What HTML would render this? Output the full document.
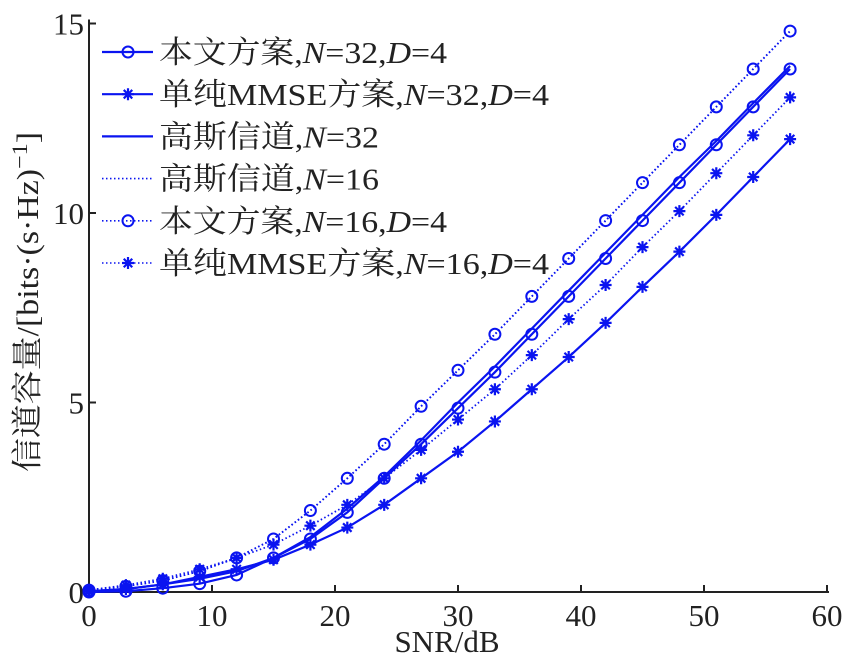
<!DOCTYPE html>
<html><head><meta charset="utf-8"><style>
body{margin:0;background:#fff}
svg text{font-family:"Liberation Serif","Noto Serif CJK SC",serif;fill:#222}
</style></head><body>
<svg id="chart" width="850" height="663" xmlns="http://www.w3.org/2000/svg">
<g id="plot"></g>
</svg>
<script>
const snr=[0,3,6,9,12,15,18,21,24,27,30,33,36,39,42,45,48,51,54,57];
const xTicks=[0,10,20,30,40,50,60];
const yTicks=[0,5,10,15];
const prop32=[0,0.02,0.1,0.22,0.45,0.9,1.4,2.1,3.0,3.9,4.85,5.8,6.8,7.8,8.8,9.8,10.8,11.8,12.8,13.8];
const mmse32=[0.02,0.08,0.2,0.4,0.6,0.85,1.25,1.7,2.3,3.0,3.7,4.5,5.35,6.2,7.1,8.05,8.98,9.95,10.95,11.95];
const gauss32=[0.02,0.08,0.2,0.35,0.55,0.9,1.45,2.2,3.05,4.0,5.0,5.95,6.95,7.95,8.95,9.95,10.95,11.9,12.9,13.88];
const gauss16=[0.05,0.15,0.3,0.55,0.9,1.4,2.15,3.0,3.9,4.9,5.85,6.8,7.8,8.8,9.8,10.8,11.8,12.8,13.8,14.8];
const prop16=[0.05,0.15,0.3,0.55,0.9,1.4,2.15,3.0,3.9,4.9,5.85,6.8,7.8,8.8,9.8,10.8,11.8,12.8,13.8,14.8];
const mmse16=[0.05,0.18,0.35,0.6,0.9,1.25,1.75,2.3,3.0,3.75,4.55,5.35,6.25,7.2,8.1,9.1,10.05,11.05,12.05,13.05];
const legendLabels=[
 ['本文方案,','N','=32,','D','=4'],
 ['单纯MMSE方案,','N','=32,','D','=4'],
 ['高斯信道,','N','=32'],
 ['高斯信道,','N','=16'],
 ['本文方案,','N','=16,','D','=4'],
 ['单纯MMSE方案,','N','=16,','D','=4']];
const legendWidths=[288,390,220,220,288,390];
const NS='http://www.w3.org/2000/svg';
const g=document.getElementById('plot');
const X0=89,X1=827,Y0=592,Y1=23.5;
const sx=v=>X0+(v-0)/60*(X1-X0);
const sy=v=>Y0-(v/15)*(Y0-Y1);
const BLUE='#0a14f0';
function el(t,a,p){const e=document.createElementNS(NS,t);for(const k in a)e.setAttribute(k,a[k]);(p||g).appendChild(e);return e;}
let ax=el('path',{d:`M${X0} ${Y1-4} V${Y0} H${X1+2}`,stroke:'#222','stroke-width':2,fill:'none'});


xTicks.forEach(t=>{
 let l=el('line',{x1:sx(t),x2:sx(t),y1:Y0,y2:Y0-7,stroke:'#222','stroke-width':2});
 
 
 let tx=el('text',{x:sx(t),y:Y0+34,'text-anchor':'middle','font-size':31});
 tx.textContent=t;
 
 
});
yTicks.forEach(t=>{
 let l=el('line',{x1:X0,x2:X0+7,y1:sy(t),y2:sy(t),stroke:'#222','stroke-width':2});
 
 
 let tx=el('text',{x:X0-5,y:sy(t)+11,'text-anchor':'end','font-size':31});
 tx.textContent=t;
 
 
});
let xl=el('text',{x:447,y:652,'text-anchor':'middle','font-size':31});
xl.textContent='SNR/dB';


let yl=el('text',{x:-120-352+0,y:0,'font-size':31,textLength:340,lengthAdjust:'spacingAndGlyphs',transform:'translate(38,0) rotate(-90)'});
yl.setAttribute('x',-472);
yl.innerHTML='信道容量/[bits·(s·Hz)<tspan dy="-11" font-size="22">−1</tspan><tspan dy="11">]</tspan>';


function marker(type,x,y,parent){
 if(type==='o'){return el('circle',{cx:x,cy:y,r:5.5,fill:'none',stroke:BLUE,'stroke-width':2},parent);}
 if(type==='*'){const p=[];for(let i=0;i<4;i++){const a=i*Math.PI/4;p.push(`M${x-6*Math.cos(a)} ${y-6*Math.sin(a)} L${x+6*Math.cos(a)} ${y+6*Math.sin(a)}`);}
  return el('path',{d:p.join(' '),stroke:BLUE,'stroke-width':2.2},parent);}
}
const series=[
 {d:gauss16,m:null,dash:true,name:'series-gauss-n16'},
 {d:prop16,m:'o',dash:true,name:'series-proposed-n16'},
 {d:mmse16,m:'*',dash:true,name:'series-mmse-n16'},
 {d:gauss32,m:null,dash:false,name:'series-gauss-n32'},
 {d:prop32,m:'o',dash:false,name:'series-proposed-n32'},
 {d:mmse32,m:'*',dash:false,name:'series-mmse-n32'}];
series.forEach(s=>{
 const grp=el('g',{});
 
 
 const pts=s.d.map((v,i)=>`${sx(snr[i])},${sy(v)}`).join(' ');
 const a={points:pts,fill:'none',stroke:BLUE,'stroke-width':s.dash?1.8:2.2};
 if(s.dash)a['stroke-dasharray']='1.5 2.5';
 el('polyline',a,grp);
 if(s.m)s.d.forEach((v,i)=>marker(s.m,sx(snr[i]),sy(v),grp));
});
const legStyle=[{m:'o',dash:false},{m:'*',dash:false},{m:null,dash:false},{m:null,dash:true},{m:'o',dash:true},{m:'*',dash:true}];
legendLabels.forEach((lab,i)=>{
 const y=52+i*42.2;
 const lg=el('g',{});
 
 
 const st=legStyle[i];
 const a={x1:102,x2:153,y1:y,y2:y,stroke:BLUE,'stroke-width':st.dash?1.6:2.2};
 if(st.dash)a['stroke-dasharray']='1.5 2.5';
 el('line',a,lg);
 if(st.m)marker(st.m,128,y,lg);
 const t=el('text',{x:159,y:y+11,'font-size':31,textLength:legendWidths[i],lengthAdjust:'spacingAndGlyphs'},lg);
 lab.forEach((p,j)=>{const ts=el('tspan',{},t);if(p==='N'||p==='D')ts.setAttribute('font-style','italic');ts.textContent=p;});
});
</script>
</body></html>
